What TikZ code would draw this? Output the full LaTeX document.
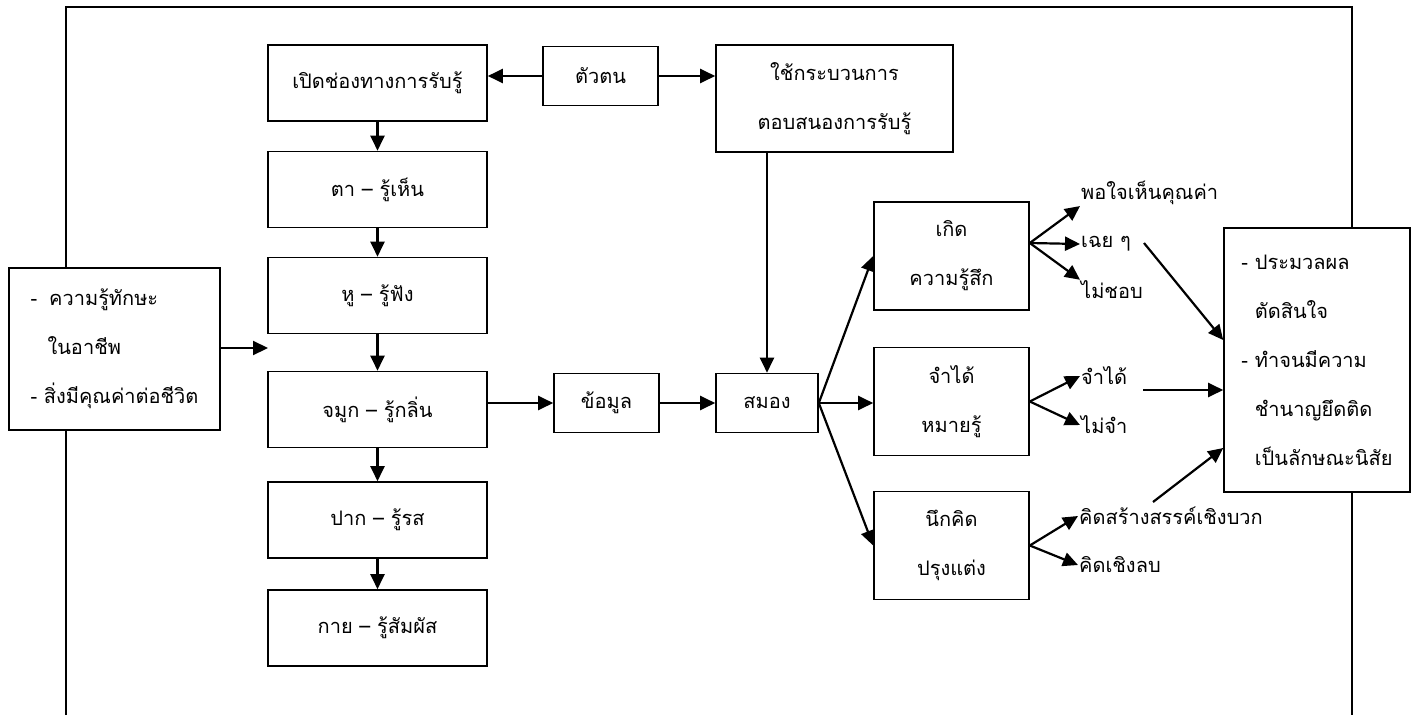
\documentclass[tikz,border=0pt]{standalone}
\usepackage{fontspec}
\newfontfamily\thaifont[Script=Thai]{Loma}
\usepackage{tikz}
\usetikzlibrary{arrows.meta}
\newcommand{\thaitext}{\thaifont\fontsize{20pt}{49pt}\selectfont}

\tikzset{
  box/.style={draw=black, line width=1.6pt, fill=white, inner sep=0pt, align=center, font=\thaitext},
  lbl/.style={inner sep=1pt, anchor=west, font=\thaitext},
  arr/.style={-{Triangle[length=15pt,width=14pt]}, line width=2.2pt},
}

\begin{document}
\begin{tikzpicture}[x=1pt, y=-1pt]
          \useasboundingbox (0,0) rectangle (1416,715);
          \draw[line width=1.6pt] (66,715) -- (66,7) -- (1352,7) -- (1352,715); % open frame

          \node[box, minimum width=211pt, minimum height=162pt, align=left] (know) at (114.5, 349)
               {-\hspace*{12pt}ความรู้ทักษะ\\\hspace*{17pt}ในอาชีพ\\- สิ่งมีคุณค่าต่อชีวิต};
          \coordinate (sensein) at (268, 348);

          \node[box, minimum width=219pt, minimum height=76pt] (open) at (377.5, 83) {เปิดช่องทางการรับรู้};
          \node[box, minimum width=219pt, minimum height=76pt] (eye) at (377.5, 189.5) {ตา – รู้เห็น};
          \node[box, minimum width=219pt, minimum height=76pt] (ear) at (377.5, 295.5) {หู – รู้ฟัง};
          \node[box, minimum width=219pt, minimum height=76pt] (nose) at (377.5, 409.5) {จมูก – รู้กลิ่น};
          \node[box, minimum width=219pt, minimum height=76pt] (mouth) at (377.5, 520) {ปาก – รู้รส};
          \node[box, minimum width=219pt, minimum height=76pt] (body) at (377.5, 628) {กาย – รู้สัมผัส};

          \node[box, minimum width=115pt, minimum height=59pt] (self) at (600.5, 76) {ตัวตน};
          \node[box, minimum width=237pt, minimum height=107pt] (resp) at (834.5, 98.5) {ใช้กระบวนการ\\ตอบสนองการรับรู้};
          \node[box, minimum width=105pt, minimum height=59pt] (data) at (606.5, 403) {ข้อมูล};
          \node[box, minimum width=102pt, minimum height=59pt] (brain) at (767, 403) {สมอง};

          \node[box, minimum width=155pt, minimum height=108pt] (feel) at (951.5, 256) {เกิด\\ความรู้สึก};
          \node[box, minimum width=155pt, minimum height=108pt] (recall) at (951.5, 401.5) {จำได้\\หมายรู้};
          \node[box, minimum width=155pt, minimum height=108pt] (think) at (951.5, 545.5) {นึกคิด\\ปรุงแต่ง};

          \node[lbl] (like) at (1080, 193) {พอใจเห็นคุณค่า};
          \node[lbl] (neutral) at (1080, 244) {เฉย ๆ};
          \node[lbl] (dislike) at (1080, 290) {ไม่ชอบ};
          \node[lbl] (remember) at (1080, 376) {จำได้};
          \node[lbl] (forget) at (1080, 425) {ไม่จำ};
          \node[lbl] (creative) at (1078, 516) {คิดสร้างสรรค์เชิงบวก};
          \node[lbl] (negative) at (1078, 565) {คิดเชิงลบ};

          \node[box, minimum width=186pt, minimum height=264pt, align=left] (result) at (1317, 360)
               {- ประมวลผล\\\phantom{- }ตัดสินใจ\\- ทำจนมีความ\\\phantom{- }ชำนาญยึดติด\\\phantom{- }เป็นลักษณะนิสัย};

          \coordinate (fromNeutral) at (1144, 243);
          \coordinate (fromRemember) at (1143, 390);
          \coordinate (fromCreative) at (1153, 502);

          \draw[arr] (know.east |- sensein) -- (sensein);
          \foreach \a/\b in {open/eye, eye/ear, ear/nose, nose/mouth, mouth/body}
            \draw[arr] (\a) -- (\b);
          \draw[arr] (self.west) -- (self.west -| open.east);
          \draw[arr] (self.east) -- (self.east -| resp.west);
          \draw[arr] (resp.south -| brain.north) -- (brain.north);
          \draw[arr] (nose.east |- data.west) -- (data.west);
          \draw[arr] (data) -- (brain);

          \draw[arr] (brain.east) -- (feel.west);
          \draw[arr] (brain.east) -- (recall.west |- brain.east);
          \draw[arr] (brain.east) -- (think.west);

          \draw[arr] ([yshift=13pt]feel.east) -- (like.south west);
          \draw[arr] ([yshift=13pt]feel.east) -- (neutral.west);
          \draw[arr] ([yshift=13pt]feel.east) -- (dislike.north west);
          \draw[arr] (recall.east) -- (remember.west);
          \draw[arr] (recall.east) -- (forget.west);
          \draw[arr] (think.east) -- (creative.west);
          \draw[arr] (think.east) -- (negative.west);

          \draw[arr] (fromNeutral) -- ([yshift=20pt]result.west);
          \draw[arr] (fromRemember) -- (result.west |- fromRemember);
          \draw[arr] (fromCreative) -- ([yshift=-88pt]result.west);
        \end{tikzpicture}
\end{document}
